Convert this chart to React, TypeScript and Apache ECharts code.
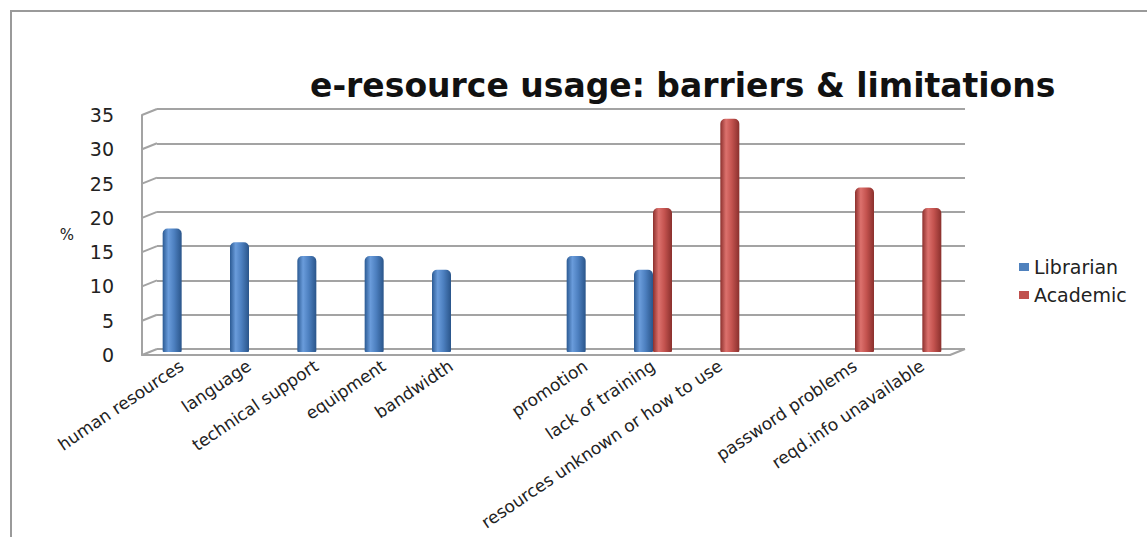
import React, { useEffect, useRef } from "react";
import * as echarts from "echarts";

const categories = [
  "human resources",
  "language",
  "technical support",
  "equipment",
  "bandwidth",
  " ",
  "promotion",
  "lack of training",
  "resources unknown or how to use",
  "  ",
  "password problems",
  "reqd.info unavailable",
];
const librarian = [18, 16, 14, 14, 12, null, 14, 12, null, null, null, null];
const academic = [null, null, null, null, null, null, null, 21, 34, null, 24, 21];
const yTicks = [0, 5, 10, 15, 20, 25, 30, 35];

export default function App() {
  const ref = useRef<HTMLDivElement>(null);
  useEffect(() => {
    document.body.style.margin = "0";
    const chart = echarts.init(ref.current!, null, { renderer: "svg" });
    const font = "DejaVu Sans";
    const grey = "#a3a3a3";
    const blueGrad = new echarts.graphic.LinearGradient(0, 0, 1, 0, [
      { offset: 0, color: "#2b5a93" },
      { offset: 0.3, color: "#6a9cdb" },
      { offset: 0.6, color: "#4d80c0" },
      { offset: 1, color: "#2a558a" },
    ]);
    const redGrad = new echarts.graphic.LinearGradient(0, 0, 1, 0, [
      { offset: 0, color: "#8c302d" },
      { offset: 0.3, color: "#dc716d" },
      { offset: 0.6, color: "#c4534f" },
      { offset: 1, color: "#8a302d" },
    ]);
    const slantData = yTicks.map((v) => [0, v]).concat([[1, 0]]);
    chart.setOption({
      animation: false,
      backgroundColor: "#ffffff",
      title: {
        text: "e-resource usage: barriers & limitations",
        left: 305,
        top: 64,
        textStyle: { fontFamily: font, fontWeight: "bold", fontSize: 33, color: "#111" },
      },
      legend: {
        orient: "vertical",
        left: 1014,
        top: 252,
        itemWidth: 10,
        itemHeight: 8,
        itemGap: 8,
        icon: "rect",
        textStyle: { fontFamily: font, fontSize: 19, color: "#222", lineHeight: 20 },
        data: [
          { name: "Librarian", itemStyle: { color: "#4F81BD" } },
          { name: "Academic", itemStyle: { color: "#C0504D" } },
        ],
      },
      graphic: [
        {
          type: "rect",
          shape: { x: 11, y: 11, width: 1200, height: 600 },
          style: { fill: "none", stroke: "#9a9a9a", lineWidth: 2 },
          silent: true,
        },
      ],
      grid: [
        { left: 148, top: 112, width: 808, height: 240 },
        { left: 157, top: 109, width: 808, height: 240 },
        { left: 142, top: 115, width: 808, height: 240 },
      ],
      xAxis: [
        {
          type: "category",
          gridIndex: 0,
          data: categories,
          axisLine: { show: false },
          axisTick: { show: false },
          axisLabel: {
            interval: 0,
            rotate: 34,
            margin: 12,
            fontFamily: font,
            fontSize: 17,
            color: "#222",
          },
        },
        { type: "value", gridIndex: 1, min: 0, max: 1, show: false },
        {
          type: "value",
          gridIndex: 2,
          min: 0,
          max: 1,
          axisLine: { show: true, lineStyle: { color: grey, width: 2 } },
          axisTick: { show: false },
          axisLabel: { show: false },
          splitLine: { show: false },
        },
      ],
      yAxis: [
        {
          type: "value",
          gridIndex: 0,
          min: 0,
          max: 35,
          interval: 5,
          axisLine: { show: false },
          axisTick: { show: false },
          axisLabel: { show: false },
          splitLine: { show: false },
        },
        {
          type: "value",
          gridIndex: 1,
          min: 0,
          max: 35,
          interval: 5,
          axisLine: { show: false },
          axisTick: { show: false },
          axisLabel: { show: false },
          splitLine: { show: true, lineStyle: { color: grey, width: 2 } },
        },
        {
          type: "value",
          gridIndex: 2,
          min: 0,
          max: 35,
          interval: 5,
          name: "%",
          nameLocation: "middle",
          nameRotate: 0,
          nameGap: 68,
          nameTextStyle: { fontFamily: font, fontSize: 15, color: "#222", padding: [8, 0, 0, 0] },
          axisLine: { show: true, lineStyle: { color: grey, width: 2 } },
          axisTick: { show: false },
          axisLabel: { margin: 28, fontFamily: font, fontSize: 19, color: "#222" },
          splitLine: { show: false },
        },
      ],
      series: [
        {
          type: "custom",
          xAxisIndex: 2,
          yAxisIndex: 2,
          silent: true,
          data: slantData,
          renderItem: (params: any, api: any) => {
            const p = api.coord([api.value(0), api.value(1)]);
            return {
              type: "line",
              shape: { x1: p[0], y1: p[1], x2: p[0] + 15, y2: p[1] - 6 },
              style: { stroke: grey, lineWidth: 2 },
            };
          },
        },
        {
          name: "Librarian",
          type: "bar",
          xAxisIndex: 0,
          yAxisIndex: 0,
          data: librarian,
          barWidth: 19,
          barGap: "0%",
          itemStyle: { color: blueGrad, borderRadius: [5, 5, 1, 1] },
        },
        {
          name: "Academic",
          type: "bar",
          xAxisIndex: 0,
          yAxisIndex: 0,
          data: academic,
          barWidth: 19,
          barGap: "0%",
          itemStyle: { color: redGrad, borderRadius: [5, 5, 1, 1] },
        },
      ],
    });
    return () => chart.dispose();
  }, []);
  return (
    <div
      ref={ref}
      style={{ position: "absolute", left: 0, top: 0, width: 1147, height: 537 }}
    />
  );
}
